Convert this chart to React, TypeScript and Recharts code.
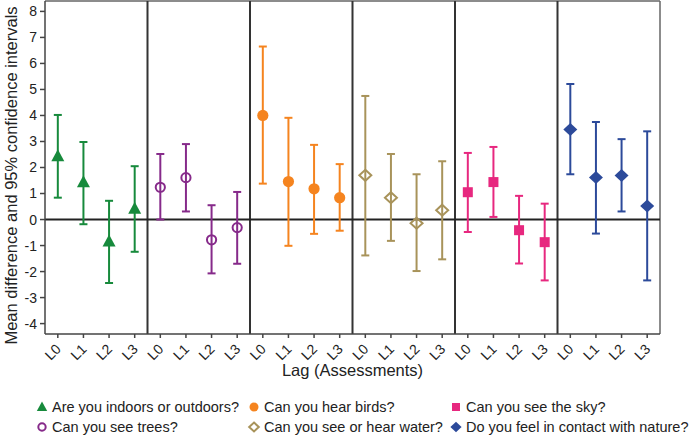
import { ComposedChart, Scatter, ErrorBar, XAxis, YAxis, ReferenceLine, Legend, Label } from "recharts";

const lags = ["L0", "L1", "L2", "L3"];
const questions = [
  "Are you indoors or outdoors?",
  "Can you see trees?",
  "Can you hear birds?",
  "Can you see or hear water?",
  "Can you see the sky?",
  "Do you feel in contact with nature?",
];
const colors = ["#178a3c", "#862a8a", "#f5841f", "#a8935a", "#e7287f", "#2c4a9a"];
const shapes = ["triangle", "openCircle", "circle", "openDiamond", "square", "diamond"];

// mean, lower and upper 95% CI per lag (L0..L3)
const indoorsMean = [2.43, 1.43, -0.84, 0.41];
const indoorsLow = [0.84, -0.18, -2.44, -1.24];
const indoorsHigh = [4.02, 2.98, 0.72, 2.05];

const treesMean = [1.24, 1.61, -0.78, -0.31];
const treesLow = [0.0, 0.31, -2.07, -1.7];
const treesHigh = [2.52, 2.9, 0.55, 1.06];

const birdsMean = [4.0, 1.46, 1.18, 0.84];
const birdsLow = [1.38, -1.01, -0.55, -0.43];
const birdsHigh = [6.65, 3.91, 2.87, 2.13];

const waterMean = [1.7, 0.84, -0.14, 0.36];
const waterLow = [-1.38, -0.82, -1.98, -1.53];
const waterHigh = [4.75, 2.52, 1.74, 2.24];

const skyMean = [1.05, 1.44, -0.41, -0.87];
const skyLow = [-0.48, 0.1, -1.69, -2.34];
const skyHigh = [2.56, 2.79, 0.91, 0.61];

const natureMean = [3.46, 1.62, 1.69, 0.52];
const natureLow = [1.74, -0.54, 0.31, -2.34];
const natureHigh = [5.21, 3.75, 3.09, 3.39];

const yTicks = [-4, -3, -2, -1, 0, 1, 2, 3, 4, 5, 6, 7, 8];

const seriesValues = [
  [indoorsMean, indoorsLow, indoorsHigh],
  [treesMean, treesLow, treesHigh],
  [birdsMean, birdsLow, birdsHigh],
  [waterMean, waterLow, waterHigh],
  [skyMean, skyLow, skyHigh],
  [natureMean, natureLow, natureHigh],
];

const series = seriesValues.map(([mean, low, high], s) =>
  mean.map((m, i) => ({ x: s * lags.length + i, y: m, err: [m - low[i], high[i] - m] }))
);

const xTicks = series.flatMap((d) => d.map((p) => p.x));
const separators = [3.5, 7.5, 11.5, 15.5, 19.5];

const font = "'Liberation Sans', Arial, sans-serif";

function Marker({ type, cx, cy, color, k = 1 }: { type: string; cx: number; cy: number; color: string; k?: number }) {
  switch (type) {
    case "triangle":
      return <polygon points={`${cx},${cy - 7 * k} ${cx + 6.5 * k},${cy + 5 * k} ${cx - 6.5 * k},${cy + 5 * k}`} fill={color} />;
    case "openCircle":
      return <circle cx={cx} cy={cy} r={4.6 * k} fill="none" stroke={color} strokeWidth={2} />;
    case "circle":
      return <circle cx={cx} cy={cy} r={5.6 * k} fill={color} />;
    case "openDiamond":
      return (
        <polygon
          points={`${cx},${cy - 5.5 * k} ${cx + 6 * k},${cy} ${cx},${cy + 5.5 * k} ${cx - 6 * k},${cy}`}
          fill="none"
          stroke={color}
          strokeWidth={2}
        />
      );
    case "square":
      return <rect x={cx - 5 * k} y={cy - 5 * k} width={10 * k} height={10 * k} fill={color} />;
    default:
      return <polygon points={`${cx},${cy - 6.5 * k} ${cx + 7 * k},${cy} ${cx},${cy + 6.5 * k} ${cx - 7 * k},${cy}`} fill={color} />;
  }
}

const XTick = ({ x, y, payload }: any) => (
  <text
    x={x + 4}
    y={y + 10}
    transform={`rotate(-45, ${x + 4}, ${y + 10})`}
    textAnchor="end"
    fontSize={14}
    fontFamily={font}
    fill="#222"
  >
    {lags[payload.value % lags.length]}
  </text>
);

// legend laid out in columns of two, like the original
const LegendContent = () => (
  <svg width={693} height={53} style={{ display: "block" }}>
    {questions.map((q, i) => {
      const colX = [42, 254, 456][Math.floor(i / 2)];
      const rowY = [25, 45][i % 2];
      return (
        <g key={q}>
          <Marker type={shapes[i]} cx={colX} cy={rowY} color={colors[i]} k={0.8} />
          <text x={colX + 10} y={rowY + 5} fontSize={14.5} fontFamily={font} fill="#222">
            {q}
          </text>
        </g>
      );
    })}
  </svg>
);

export default function App() {
  return (
    <div style={{ position: "absolute", left: 0, top: 0 }}>
      <ComposedChart width={693} height={435} margin={{ top: 1, right: 33, bottom: 0, left: 0 }}>
        <XAxis
          type="number"
          dataKey="x"
          domain={[-0.5, 23.5]}
          ticks={xTicks}
          interval={0}
          tick={<XTick />}
          tickSize={4}
          height={48}
          stroke="#444"
          strokeWidth={1.5}
        >
          <Label
            content={({ viewBox }: any) => (
              <text
                x={viewBox.x + viewBox.width / 2}
                y={376}
                textAnchor="middle"
                fontSize={16.5}
                fontFamily={font}
                fill="#222"
              >
                Lag (Assessments)
              </text>
            )}
          />
        </XAxis>
        <YAxis
          type="number"
          domain={[-4.4, 8.4]}
          ticks={yTicks}
          interval={0}
          width={45}
          tickSize={5}
          tickMargin={3}
          stroke="#444"
          strokeWidth={1.5}
          tick={{ fontSize: 14, fontFamily: font, fill: "#222" }}
        >
          <Label
            content={({ viewBox }: any) => {
              const cy = viewBox.y + viewBox.height / 2 + 8;
              return (
                <text
                  x={17}
                  y={cy}
                  transform={`rotate(-90, 17, ${cy})`}
                  textAnchor="middle"
                  fontSize={16.5}
                  fontFamily={font}
                  fill="#222"
                >
                  Mean difference and 95% confidence intervals
                </text>
              );
            }}
          />
        </YAxis>
        <ReferenceLine y={8.4} stroke="#666" strokeWidth={1.5} />
        <ReferenceLine x={23.5} stroke="#666" strokeWidth={1.5} />
        {separators.map((s) => (
          <ReferenceLine key={s} x={s} stroke="#333" strokeWidth={2} />
        ))}
        <ReferenceLine y={0} stroke="#222" strokeWidth={2} />
        {series.map((d, s) => (
          <Scatter
            key={s}
            name={questions[s]}
            data={d}
            dataKey="y"
            fill={colors[s]}
            isAnimationActive={false}
            shape={(props: any) => <Marker type={shapes[s]} cx={props.cx} cy={props.cy} color={colors[s]} />}
          >
            <ErrorBar dataKey="err" direction="y" width={4} stroke={colors[s]} strokeWidth={2} />
          </Scatter>
        ))}
        <Legend verticalAlign="bottom" content={<LegendContent />} wrapperStyle={{ height: 53 }} />
      </ComposedChart>
    </div>
  );
}
